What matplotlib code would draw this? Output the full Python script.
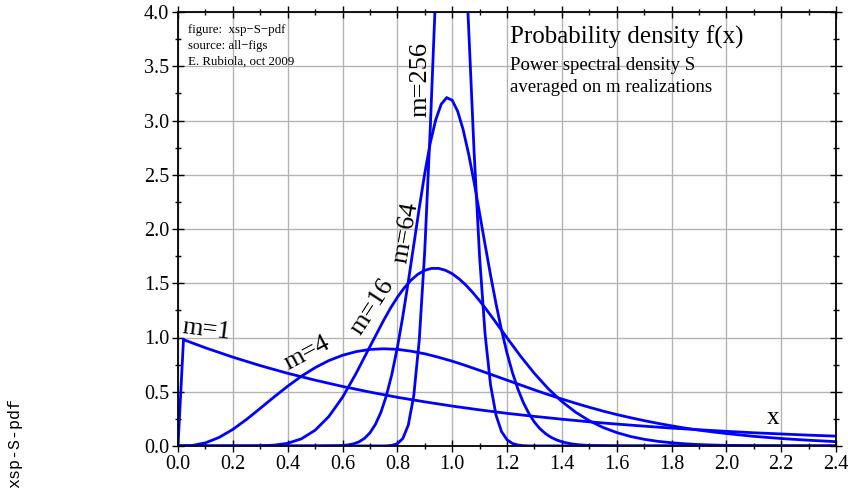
import matplotlib
matplotlib.use('Agg')
import matplotlib.pyplot as plt
from matplotlib.ticker import MultipleLocator

plt.rcParams['font.family'] = ['Liberation Serif', 'DejaVu Serif']

# values (pdf of S averaged on m realizations)
x_m1 = [0.0, 0.02, 0.1, 0.2, 0.3, 0.4, 0.5, 0.6, 0.7, 0.8, 0.9, 1.0, 1.1, 1.2,
        1.3, 1.4, 1.5, 1.6, 1.7, 1.8, 1.9, 2.0, 2.1, 2.2, 2.3, 2.4]
y_m1 = [0.0, 0.980, 0.905, 0.819, 0.741, 0.670, 0.607, 0.549, 0.497, 0.449, 0.407,
        0.368, 0.333, 0.301, 0.273, 0.247, 0.223, 0.202, 0.183, 0.165, 0.150,
        0.135, 0.122, 0.111, 0.100, 0.091]

x_m4 = [0.0, 0.05, 0.1, 0.15, 0.2, 0.25, 0.3, 0.35, 0.4, 0.45, 0.5, 0.55, 0.6,
        0.65, 0.7, 0.75, 0.8, 0.85, 0.9, 0.95, 1.0, 1.05, 1.1, 1.15, 1.2, 1.25,
        1.3, 1.35, 1.4, 1.45, 1.5, 1.55, 1.6, 1.65, 1.7, 1.75, 1.8, 1.85, 1.9,
        1.95, 2.0, 2.1, 2.2, 2.3, 2.4]
y_m4 = [0.0, 0.004, 0.029, 0.079, 0.153, 0.245, 0.347, 0.451, 0.551, 0.643,
        0.722, 0.787, 0.836, 0.870, 0.890, 0.896, 0.891, 0.874, 0.850, 0.818,
        0.782, 0.741, 0.697, 0.652, 0.607, 0.562, 0.517, 0.474, 0.433, 0.394,
        0.357, 0.322, 0.290, 0.261, 0.234, 0.209, 0.186, 0.165, 0.146, 0.130,
        0.115, 0.089, 0.069, 0.053, 0.040]

x_m16 = [0.0, 0.2, 0.25, 0.3, 0.35, 0.4, 0.45, 0.5, 0.55, 0.6, 0.65, 0.7, 0.75,
         0.775, 0.8, 0.825, 0.85, 0.875, 0.9, 0.925, 0.95, 0.975, 1.0, 1.025,
         1.05, 1.075, 1.1, 1.125, 1.15, 1.2, 1.25, 1.3, 1.35, 1.4, 1.45, 1.5,
         1.55, 1.6, 1.65, 1.7, 1.75, 1.8, 1.85, 1.9, 1.95, 2.0, 2.1, 2.2, 2.4]
y_m16 = [0.0, 0.0, 0.0002, 0.0017, 0.0076, 0.025, 0.066, 0.145, 0.271, 0.449,
         0.671, 0.916, 1.158, 1.270, 1.370, 1.457, 1.529, 1.583, 1.619, 1.637,
         1.637, 1.620, 1.588, 1.541, 1.483, 1.415, 1.339, 1.257, 1.172, 0.997,
         0.826, 0.669, 0.529, 0.410, 0.312, 0.233, 0.171, 0.124, 0.088, 0.062,
         0.043, 0.030, 0.020, 0.013, 0.009, 0.006, 0.0025, 0.001, 0.0002]

x_m64 = [0.0, 0.5, 0.6, 0.62, 0.64, 0.66, 0.68, 0.70, 0.72, 0.74, 0.76, 0.78,
         0.80, 0.82, 0.84, 0.86, 0.88, 0.90, 0.92, 0.94, 0.96, 0.98, 1.00, 1.02,
         1.04, 1.06, 1.08, 1.10, 1.12, 1.14, 1.16, 1.18, 1.20, 1.22, 1.24, 1.26,
         1.28, 1.30, 1.32, 1.34, 1.36, 1.38, 1.40, 1.42, 1.44, 1.46, 1.48, 1.50,
         1.6, 2.4]
y_m64 = [0.0, 0.0, 0.004, 0.010, 0.020, 0.038, 0.070, 0.121, 0.199, 0.310, 0.463,
         0.661, 0.906, 1.194, 1.515, 1.854, 2.194, 2.513, 2.791, 3.006, 3.150,
         3.210, 3.187, 3.086, 2.916, 2.692, 2.430, 2.146, 1.857, 1.575, 1.310,
         1.069, 0.857, 0.675, 0.523, 0.398, 0.299, 0.220, 0.160, 0.115, 0.081,
         0.057, 0.039, 0.027, 0.018, 0.012, 0.008, 0.005, 0.001, 0.0]

x_m256 = [0.0, 0.76, 0.78, 0.80, 0.82, 0.84, 0.86, 0.88, 0.90, 0.92, 0.94, 0.96,
          0.98, 1.00, 1.02, 1.04, 1.06, 1.08, 1.10, 1.12, 1.14, 1.16, 1.18, 1.20,
          1.22, 1.24, 1.26, 1.28, 2.4]
y_m256 = [0.0, 0.001, 0.006, 0.021, 0.069, 0.193, 0.465, 0.977, 1.798, 2.92,
          4.19, 5.39, 6.18, 6.38, 5.95, 5.02, 3.86, 2.71, 1.746, 1.033, 0.563,
          0.284, 0.133, 0.058, 0.023, 0.009, 0.003, 0.001, 0.0]

series = [(x_m1, y_m1), (x_m4, y_m4), (x_m16, y_m16), (x_m64, y_m64), (x_m256, y_m256)]

# curve labels: text, x, y, rotation
curve_labels = [('m=1', 0.105, 1.07, -7),
                ('m=4', 0.47, 0.85, 28),
                ('m=16', 0.71, 1.28, 57),
                ('m=64', 0.83, 1.97, 80),
                ('m=256', 0.885, 3.38, 90)]

W, H = 848, 491
fig = plt.figure(figsize=(W / 100, H / 100), dpi=100)
ax = fig.add_axes([178 / W, (H - 446) / H, 658 / W, 434 / H])

for xs, ys in series:
    ax.plot(xs, ys, color='#0000ff', lw=2.0, solid_joinstyle='miter')

ax.set_xlim(0, 2.4)
ax.set_ylim(0, 4.0)
ax.xaxis.set_major_locator(MultipleLocator(0.2))
ax.xaxis.set_minor_locator(MultipleLocator(0.1))
ax.yaxis.set_major_locator(MultipleLocator(0.5))
ax.yaxis.set_minor_locator(MultipleLocator(0.25))
ax.xaxis.set_major_formatter(lambda v, p: f'{v:.1f}')
ax.yaxis.set_major_formatter(lambda v, p: f'{v:.1f}')
ax.grid(True, which='major', color='#b4b4b4', lw=1.0)
ax.set_axisbelow(True)
ax.tick_params(which='both', direction='inout', top=True, right=True,
               labelsize=14.5, width=1.0, color='black', pad=2)
ax.tick_params(which='major', length=9)
ax.tick_params(which='minor', length=5)
for s in ax.spines.values():
    s.set_linewidth(1.3)

for txt, lx, ly, rot in curve_labels:
    ax.text(lx, ly, txt, fontsize=19, rotation=rot, ha='center', va='center',
            rotation_mode='anchor')
ax.text(2.17, 0.26, 'x', fontsize=18, ha='center', va='center')

def fpos(px, py):
    return px / W, 1 - py / H

fig.text(*fpos(188, 30), 'figure:  xsp\u2212S\u2212pdf', fontsize=9.3, va='center')
fig.text(*fpos(188, 46), 'source: all\u2212figs', fontsize=9.3, va='center')
fig.text(*fpos(188, 62), 'E. Rubiola, oct 2009', fontsize=9.3, va='center')

fig.text(*fpos(510, 37), 'Probability density f(x)', fontsize=18, va='center')
fig.text(*fpos(510, 66), 'Power spectral density S', fontsize=13.5, va='center')
fig.text(*fpos(510, 87), 'averaged on m realizations', fontsize=13.5, va='center')

fig.text(*fpos(15, 443), 'xsp-S-pdf', fontsize=12, rotation=90, ha='center',
         va='center', family='Liberation Mono')

fig.savefig('out.png', dpi=100)
